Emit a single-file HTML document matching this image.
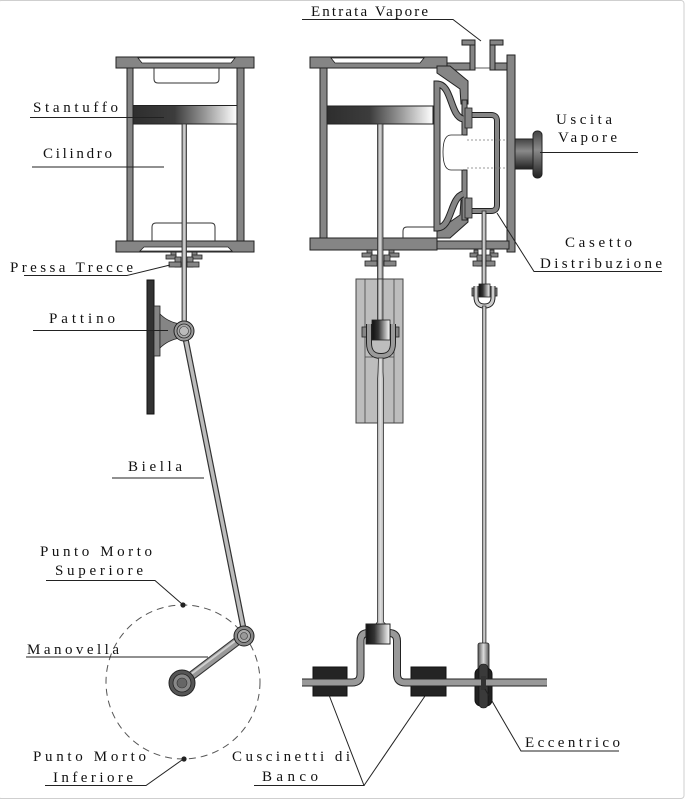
<!DOCTYPE html>
<html><head><meta charset="utf-8"><style>
html,body{margin:0;padding:0;background:#fff;}
svg{display:block;}
text{font-family:"Liberation Serif","DejaVu Serif",serif;font-size:15px;fill:#111;}
</style></head><body>
<svg width="687" height="800" viewBox="0 0 687 800" xmlns="http://www.w3.org/2000/svg">
<defs>
<linearGradient id="pg" x1="0" y1="0" x2="1" y2="0">
<stop offset="0" stop-color="#2e2e2e"/><stop offset="0.4" stop-color="#3c3c3c"/><stop offset="0.7" stop-color="#9a9a9a"/><stop offset="1" stop-color="#ffffff"/></linearGradient>
<linearGradient id="rg" x1="0" y1="0" x2="1" y2="0">
<stop offset="0" stop-color="#6a6a6a"/><stop offset="0.45" stop-color="#e0e0e0"/><stop offset="1" stop-color="#777"/></linearGradient>
<linearGradient id="bg" x1="0" y1="0" x2="1" y2="0">
<stop offset="0" stop-color="#111"/><stop offset="0.35" stop-color="#333"/><stop offset="1" stop-color="#fff"/></linearGradient>
<linearGradient id="eg" x1="0" y1="0" x2="0" y2="1">
<stop offset="0" stop-color="#444"/><stop offset="0.4" stop-color="#8a8a8a"/><stop offset="1" stop-color="#222"/></linearGradient>
<linearGradient id="sg" x1="0" y1="0" x2="1" y2="0">
<stop offset="0" stop-color="#555"/><stop offset="0.5" stop-color="#ddd"/><stop offset="1" stop-color="#555"/></linearGradient>
</defs>

<rect x="-2" y="0.5" width="686" height="798" rx="3" fill="none" stroke="#cfcfcf" stroke-width="1"/>

<g fill="#858585" stroke="#222" stroke-width="1">
<rect x="116" y="57" width="138" height="11"/>
<rect x="127" y="68" width="6" height="173"/>
<rect x="237" y="68" width="7" height="173"/>
<rect x="116" y="241" width="138" height="11"/>
</g>
<polygon points="138,58 235,58 231,63 142,63" fill="#fff" stroke="#222" stroke-width="0.8"/>
<polygon points="140,251 232,251 228,247 144,247" fill="#fff" stroke="#222" stroke-width="0.8"/>
<path d="M154 68 L154 79 Q154 83 158 83 L215 83 Q219 83 219 79 L219 68" fill="none" stroke="#333" stroke-width="1"/>
<path d="M152 241 L152 227 Q152 223 156 223 L211 223 Q215 223 215 227 L215 241" fill="none" stroke="#333" stroke-width="1"/>
<rect x="133" y="105.5" width="104" height="18.5" fill="url(#pg)" stroke="#222"/>
<rect x="182" y="124" width="4.5" height="205" fill="url(#rg)" stroke="#333" stroke-width="0.8"/>
<g fill="#858585" stroke="#222" stroke-width="0.8">
<rect x="171" y="252" width="5" height="6"/><rect x="166" y="255" width="10" height="4"/>
<rect x="175" y="257" width="6" height="10"/><rect x="169" y="262" width="12" height="5"/>
<rect x="192" y="252" width="5" height="6"/><rect x="192" y="255" width="10" height="4"/>
<rect x="187" y="257" width="6" height="10"/><rect x="187" y="262" width="12" height="5"/>
</g>
<rect x="147" y="280" width="7" height="134" fill="#333" stroke="#111"/>
<rect x="154" y="306" width="6" height="50" fill="#858585" stroke="#222" stroke-width="0.8"/>
<path d="M160 314 Q168 322 180 324 L180 338 Q168 340 160 348 Z" fill="#858585" stroke="#222" stroke-width="0.8"/>
<line x1="184" y1="331" x2="245" y2="636" stroke="#333" stroke-width="6"/>
<line x1="184" y1="331" x2="245" y2="636" stroke="#bcbcbc" stroke-width="3.6"/>
<circle cx="184" cy="331" r="10" fill="#9a9a9a" stroke="#222"/>
<circle cx="184" cy="331" r="7" fill="#aaa" stroke="#222" stroke-width="0.8"/>
<circle cx="184" cy="331" r="4.5" fill="#bbb" stroke="#333" stroke-width="0.6"/>

<circle cx="183" cy="682" r="77" fill="none" stroke="#555" stroke-width="1" stroke-dasharray="7 5"/>
<circle cx="183" cy="605" r="2.6" fill="#222"/>
<circle cx="184" cy="759" r="2.6" fill="#222"/>
<line x1="182" y1="683" x2="244" y2="636" stroke="#333" stroke-width="9"/>
<line x1="182" y1="683" x2="244" y2="636" stroke="#999" stroke-width="7"/>
<line x1="182" y1="681" x2="243" y2="635" stroke="#d0d0d0" stroke-width="2"/>
<circle cx="182" cy="683" r="13" fill="#555" stroke="#222"/>
<circle cx="182" cy="683" r="9" fill="#888" stroke="#222" stroke-width="0.8"/>
<circle cx="182" cy="683" r="5" fill="#666" stroke="#333" stroke-width="0.6"/>
<circle cx="244" cy="636" r="10" fill="#888" stroke="#222"/>
<circle cx="244" cy="636" r="6.5" fill="#aaa" stroke="#222" stroke-width="0.8"/>
<circle cx="244" cy="636" r="3.5" fill="#999" stroke="#333" stroke-width="0.6"/>

<g fill="#858585" stroke="#222" stroke-width="1">
<rect x="310" y="57" width="137" height="11"/>
<rect x="447" y="63" width="23" height="7"/>
<rect x="495" y="63" width="12" height="7"/>
<rect x="470" y="40" width="5" height="30"/><rect x="462" y="40" width="13" height="5"/>
<rect x="490" y="40" width="5" height="30"/><rect x="490" y="40" width="13" height="5"/>
<rect x="507" y="55" width="8" height="197"/>
<rect x="320" y="68" width="7" height="170"/>
<rect x="310" y="238" width="127" height="12"/>
<rect x="437" y="241" width="72" height="8"/>
<polygon points="437,66 450,66 468,81 468,104 461,104 460,89 437,73"/>
<polygon points="437,238 450,238 468,222 468,200 461,200 460,215 437,231"/>
<rect x="462" y="100" width="5" height="35"/>
<rect x="462" y="170" width="5" height="50"/>
</g>
<line x1="475" y1="68" x2="490" y2="68" stroke="#333" stroke-width="0.8"/>
<polygon points="331,58 424,58 420,63 335,63" fill="#fff" stroke="#222" stroke-width="0.8"/>
<path d="M403 238 L403 231 Q403 227 407 227 L437 227" fill="none" stroke="#333" stroke-width="1"/>
<path d="M463 119 C450 116 452 84 437 84 L437 228 C452 228 450 198 463 194" fill="none" stroke="#222" stroke-width="7"/>
<path d="M463 119 C450 116 452 84 437 84 L437 228 C452 228 450 198 463 194" fill="none" stroke="#858585" stroke-width="5"/>
<path d="M463 135 L451 135 Q443 135 443 152 Q443 170 451 170 L463 170" fill="#fff" stroke="#222" stroke-width="0.8"/>
<rect x="327" y="106" width="106" height="18" fill="url(#pg)" stroke="#222"/>
<path d="M467 115 L491 115 Q497 115 497 121 L497 205 Q497 211 491 211 L467 211" fill="none" stroke="#222" stroke-width="6"/>
<path d="M467 115 L491 115 Q497 115 497 121 L497 205 Q497 211 491 211 L467 211" fill="none" stroke="#858585" stroke-width="4"/>
<rect x="465" y="108" width="7" height="20" fill="#858585" stroke="#222" stroke-width="0.8"/>
<rect x="465" y="198" width="7" height="20" fill="#858585" stroke="#222" stroke-width="0.8"/>
<line x1="467" y1="140" x2="507" y2="140" stroke="#777" stroke-width="0.8" stroke-dasharray="2 2"/>
<line x1="467" y1="168" x2="507" y2="168" stroke="#777" stroke-width="0.8" stroke-dasharray="2 2"/>
<rect x="515" y="139" width="20" height="30" fill="url(#eg)" stroke="#222"/>
<rect x="533" y="131" width="9" height="47" rx="4" fill="url(#eg)" stroke="#222"/>

<rect x="377.5" y="124" width="5.5" height="196" fill="url(#rg)" stroke="#333" stroke-width="0.8"/>
<rect x="482" y="211" width="4" height="75" fill="url(#rg)" stroke="#333" stroke-width="0.8"/>

<g fill="#858585" stroke="#222" stroke-width="0.8">
<rect x="367" y="250" width="5" height="6"/><rect x="362" y="253" width="10" height="4"/>
<rect x="371" y="255" width="6" height="11"/><rect x="365" y="261" width="12" height="5"/>
<rect x="389" y="250" width="5" height="6"/><rect x="389" y="253" width="10" height="4"/>
<rect x="384" y="255" width="6" height="11"/><rect x="384" y="261" width="12" height="5"/>
<rect x="474" y="250" width="4" height="6"/><rect x="470" y="253" width="8" height="4"/>
<rect x="477" y="255" width="5" height="11"/><rect x="473" y="261" width="9" height="5"/>
<rect x="490" y="250" width="4" height="6"/><rect x="490" y="253" width="8" height="4"/>
<rect x="486" y="255" width="5" height="11"/><rect x="486" y="261" width="9" height="5"/>
</g>

<rect x="356" y="279" width="47" height="144" fill="#bdbdbd" stroke="#444"/>
<line x1="365" y1="279" x2="365" y2="423" stroke="#444" stroke-width="0.8"/>
<line x1="394" y1="279" x2="394" y2="423" stroke="#444" stroke-width="0.8"/>
<line x1="365" y1="357" x2="394" y2="357" stroke="#444" stroke-width="0.8"/>
<rect x="377.5" y="279" width="5.5" height="42" fill="url(#rg)" stroke="#333" stroke-width="0.8"/>
<rect x="362" y="327" width="6" height="10" fill="#858585" stroke="#222" stroke-width="0.8"/>
<rect x="393" y="327" width="6" height="10" fill="#858585" stroke="#222" stroke-width="0.8"/>
<path d="M369 324 L369 343 Q369 356 381 356 Q393 356 393 343 L393 324" fill="none" stroke="#222" stroke-width="6"/>
<path d="M369 324 L369 343 Q369 356 381 356 Q393 356 393 343 L393 324" fill="none" stroke="#9a9a9a" stroke-width="4"/>
<rect x="372" y="320" width="18" height="20" fill="url(#bg)" stroke="#222" stroke-width="0.8"/>
<path d="M378.5 358 L378 372 L377.5 380 L377.5 622 L374 626 L388 626 L383.5 622 L383.5 380 L383 372 L383 358 Z" fill="url(#rg)" stroke="#333" stroke-width="0.8"/>
<rect x="366" y="624" width="24" height="20" fill="url(#bg)" stroke="#222"/>

<rect x="472" y="288" width="5" height="8" fill="#858585" stroke="#222" stroke-width="0.8"/>
<rect x="492" y="288" width="5" height="8" fill="#858585" stroke="#222" stroke-width="0.8"/>
<path d="M476 286 L476 297 Q476 306 484.5 306 Q493 306 493 297 L493 286" fill="none" stroke="#222" stroke-width="5"/>
<path d="M476 286 L476 297 Q476 306 484.5 306 Q493 306 493 297 L493 286" fill="none" stroke="#ccc" stroke-width="3"/>
<rect x="479" y="284" width="11" height="13" fill="url(#bg)" stroke="#222" stroke-width="0.8"/>
<rect x="482.5" y="306" width="3.5" height="338" fill="url(#rg)" stroke="#333" stroke-width="0.7"/>

<rect x="313" y="667" width="34" height="29" fill="#242424" stroke="#111"/>
<rect x="411" y="667" width="35" height="29" fill="#242424" stroke="#111"/>
<rect x="478" y="643" width="11" height="30" rx="2" fill="url(#sg)" stroke="#222" stroke-width="0.8"/>
<rect x="475" y="668" width="17" height="38" rx="6" fill="#222" stroke="#111"/>
<rect x="479" y="664" width="9" height="44" rx="4" fill="#3a3a3a" stroke="#111" stroke-width="0.6"/>
<path d="M302 682.5 L352 682.5 Q360.5 682.5 360.5 674 L360.5 641 Q360.5 633 368 633 L389 633 Q397 633 397 641 L397 674 Q397 682.5 405 682.5 L547 682.5" fill="none" stroke="#222" stroke-width="8"/>
<path d="M302 682.5 L352 682.5 Q360.5 682.5 360.5 674 L360.5 641 Q360.5 633 368 633 L389 633 Q397 633 397 641 L397 674 Q397 682.5 405 682.5 L547 682.5" fill="none" stroke="#999" stroke-width="6"/>
<rect x="366" y="624" width="24" height="20" fill="url(#bg)" stroke="#222"/>
<rect x="481" y="676" width="5" height="14" fill="#333"/>

<g fill="none" stroke="#222" stroke-width="1">
<line x1="30" y1="117.5" x2="164" y2="117.5"/>
<line x1="32" y1="167" x2="164" y2="167"/>
<polyline points="24,275.5 127,275.5 170,265"/>
<line x1="33" y1="330.5" x2="168" y2="330.5"/>
<line x1="112" y1="478" x2="204" y2="478"/>
<polyline points="46,580.5 155,580.5 182,604"/>
<line x1="26" y1="657" x2="208" y2="657"/>
<polyline points="45,785.5 146,785.5 182,760"/>
<polyline points="254,785.5 364,785.5 329,695"/>
<line x1="364" y1="785.5" x2="425" y2="696"/>
<polyline points="619,751 521,751 485,689"/>
<polyline points="302,19.5 453,19.5 481,41"/>
<line x1="540" y1="152.5" x2="638" y2="152.5"/>
<polyline points="497,213 534,271.5 662,271.5"/>
</g>

<text x="33" y="112" textLength="85" lengthAdjust="spacing">Stantuffo</text>
<text x="43" y="158" textLength="69" lengthAdjust="spacing">Cilindro</text>
<text x="10" y="272" textLength="123" lengthAdjust="spacing">Pressa Trecce</text>
<text x="49" y="323" textLength="66" lengthAdjust="spacing">Pattino</text>
<text x="128" y="471" textLength="54" lengthAdjust="spacing">Biella</text>
<text x="40" y="556" textLength="112" lengthAdjust="spacing">Punto Morto</text>
<text x="55" y="575" textLength="88" lengthAdjust="spacing">Superiore</text>
<text x="27" y="654" textLength="92" lengthAdjust="spacing">Manovella</text>
<text x="33" y="761" textLength="113" lengthAdjust="spacing">Punto Morto</text>
<text x="53" y="782" textLength="80" lengthAdjust="spacing">Inferiore</text>
<text x="232" y="761" textLength="118" lengthAdjust="spacing">Cuscinetti di</text>
<text x="262" y="781" textLength="56" lengthAdjust="spacing">Banco</text>
<text x="525" y="747" textLength="95" lengthAdjust="spacing">Eccentrico</text>
<text x="311" y="16" textLength="117" lengthAdjust="spacing">Entrata Vapore</text>
<text x="556" y="124" textLength="56" lengthAdjust="spacing">Uscita</text>
<text x="558" y="142" textLength="59" lengthAdjust="spacing">Vapore</text>
<text x="565" y="247" textLength="67" lengthAdjust="spacing">Casetto</text>
<text x="540" y="268" textLength="122" lengthAdjust="spacing">Distribuzione</text>
</svg>
</body></html>
